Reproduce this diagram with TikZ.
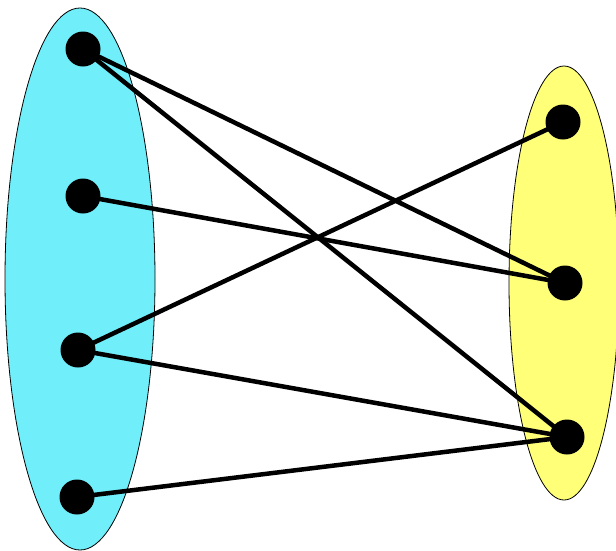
\documentclass[tikz,border=0pt]{standalone}
\begin{document}
\begin{tikzpicture}[x=1pt,y=-1pt,
  dot/.style={circle,fill=black,inner sep=0pt,minimum size=35pt},
  edge/.style={line width=4.5pt},
  setA/.style={draw=black,line width=0.8pt,fill={rgb,255:red,112;green,238;blue,250}},
  setB/.style={draw=black,line width=0.8pt,fill={rgb,255:red,255;green,255;blue,120}}]
\useasboundingbox (0,0) rectangle (616,550);
\fill[white] (0,0) rectangle (616,550);
\draw[setA] (80,279) ellipse [x radius=75, y radius=271];
\draw[setB] (564,283) ellipse [x radius=55, y radius=217];
\node[dot] (a1) at (83,49) {};
\node[dot] (a2) at (83,196) {};
\node[dot] (a3) at (78,350) {};
\node[dot] (a4) at (77,497) {};
\node[dot] (b1) at (563,122) {};
\node[dot] (b2) at (565,283) {};
\node[dot] (b3) at (567,437) {};
\draw[edge] (a1.center) -- (b2.center);
\draw[edge] (a1.center) -- (b3.center);
\draw[edge] (a2.center) -- (b2.center);
\draw[edge] (a3.center) -- (b1.center);
\draw[edge] (a3.center) -- (b3.center);
\draw[edge] (a4.center) -- (b3.center);
\end{tikzpicture}
\end{document}
